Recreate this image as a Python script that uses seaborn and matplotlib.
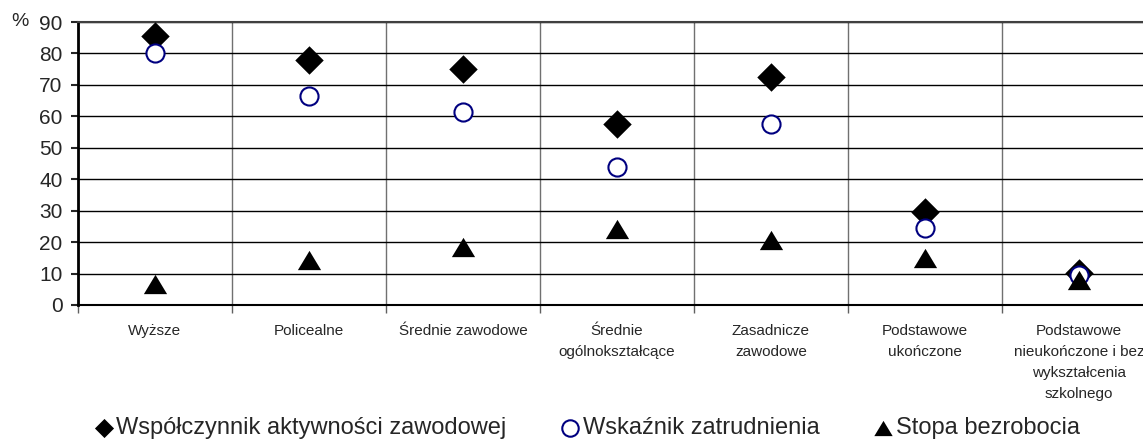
import matplotlib
matplotlib.use('Agg')
import matplotlib.pyplot as plt
import seaborn as sns
import pandas as pd

# dane (%)
categories = ['Wyższe', 'Policealne', 'Średnie zawodowe', 'Średnie\nogólnokształcące',
              'Zasadnicze\nzawodowe', 'Podstawowe\nukończone',
              'Podstawowe\nnieukończone i bez\nwykształcenia\nszkolnego']
aktywnosc = [85.6, 77.8, 75.0, 57.6, 72.5, 29.5, 10.1]
zatrudnienie = [80.0, 66.6, 61.3, 43.9, 57.6, 24.6, 9.4]
bezrobocie = [6.6, 14.4, 18.3, 24.1, 20.6, 15.1, 7.8]
series_names = ['Współczynnik aktywności zawodowej', 'Wskaźnik zatrudnienia', 'Stopa bezrobocia']
y_ticks = [0, 10, 20, 30, 40, 50, 60, 70, 80, 90]

sns.set_style('white')
plt.rcParams['font.family'] = ['Liberation Sans', 'DejaVu Sans']

pos = list(range(len(categories)))
df = pd.DataFrame({'x': pos, 'akt': aktywnosc, 'zat': zatrudnienie, 'bez': bezrobocie})

# trojkat nieco szerszy niz wyzszy, jak w oryginale
tri = [(0, 0.83), (-1, -0.83), (1, -0.83)]

fig = plt.figure(figsize=(11.43, 4.41), dpi=100)
ax = fig.add_axes([78 / 1143, 136 / 441, 1078 / 1143, 283 / 441])

sns.scatterplot(data=df, x='x', y='akt', marker='D', s=210, color='black',
                edgecolor='black', linewidth=0, label=series_names[0], ax=ax, zorder=3)
sns.scatterplot(data=df, x='x', y='zat', marker='o', s=170, facecolor='white',
                edgecolor='#000080', linewidth=1.5, label=series_names[1], ax=ax, zorder=4)
sns.scatterplot(data=df, x='x', y='bez', marker=tri, s=280, color='black',
                edgecolor='black', linewidth=0, label=series_names[2], ax=ax, zorder=5)

ax.set_xlim(-0.5, len(categories) - 0.5)
ax.set_ylim(0, 90)
ax.set_yticks(y_ticks)
ax.set_xticks(pos)
ax.set_xticklabels(categories, fontsize=11, linespacing=1.62, va='top')
ax.set_xticks([p - 0.5 for p in pos] + [len(pos) - 0.5], minor=True)
ax.tick_params(axis='x', which='major', length=0, pad=14)
ax.tick_params(axis='x', which='minor', length=6, width=1, color='#606060', direction='out', bottom=True)
ax.tick_params(axis='y', length=5, width=1.5, direction='out', left=True, labelsize=15, pad=6)
ax.set_xlabel('')
ax.set_ylabel('')

ax.grid(axis='y', which='major', color='black', linewidth=1)
ax.grid(axis='x', which='minor', color='#707070', linewidth=1)
ax.grid(axis='x', which='major', visible=False)

ax.spines['left'].set_linewidth(2)
ax.spines['left'].set_color('black')
ax.spines['bottom'].set_linewidth(1.5)
ax.spines['bottom'].set_color('black')
ax.spines['top'].set_color('#404040')
ax.spines['top'].set_linewidth(1.5)
ax.spines['right'].set_visible(False)

fig.text(20 / 1143, 1 - 21 / 441, '%', ha='center', va='center', fontsize=14)

handles, labels = ax.get_legend_handles_labels()
ax.get_legend().remove()
leg = fig.legend(handles, labels, loc='center', bbox_to_anchor=(587 / 1143, 1 - 428 / 441),
                 ncol=3, frameon=False, fontsize=17, handletextpad=0.13, handlelength=0.8,
                 columnspacing=2.3)
for h, sz in zip(leg.legend_handles, [95, 140, 175]):
    h.set_sizes([sz])

fig.savefig('out.png', dpi=100)
